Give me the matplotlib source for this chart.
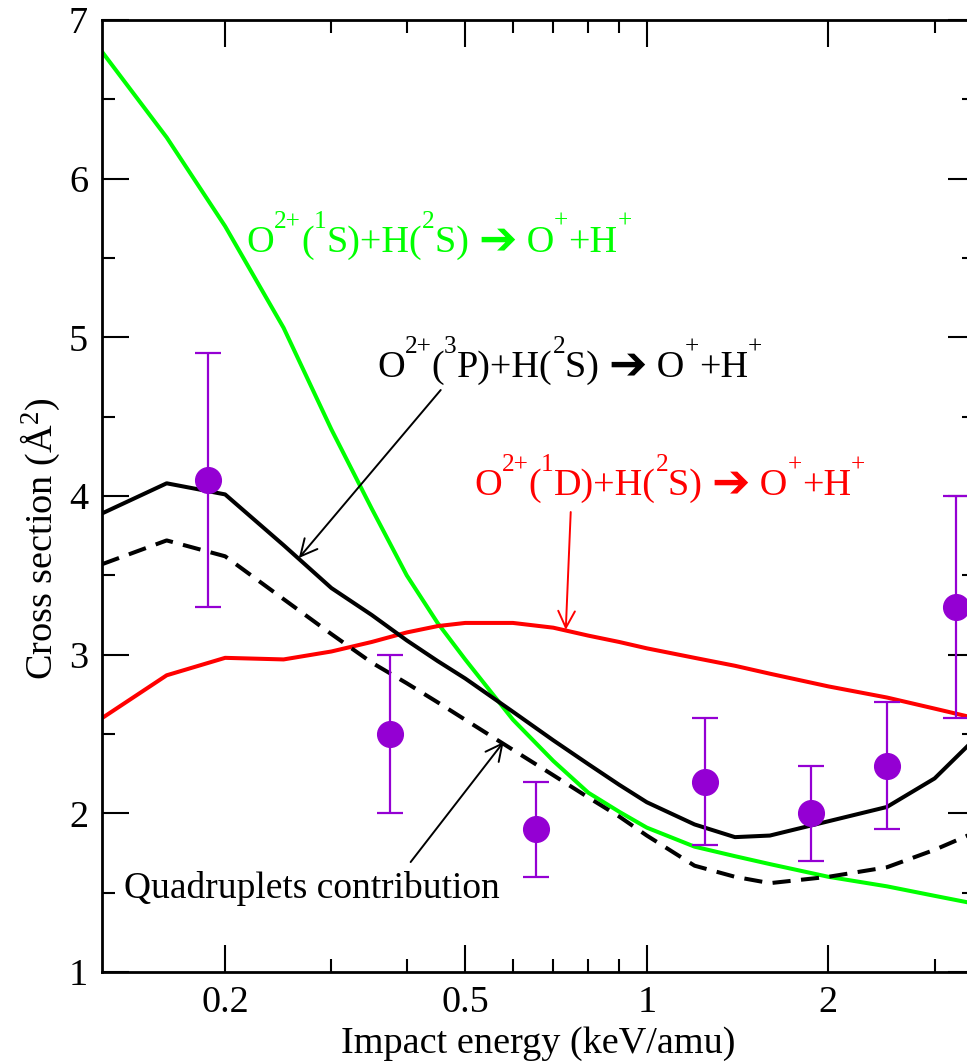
"""
Charge transfer cross sections O2+ + H -> O+ + H+ versus impact energy.
"""
import matplotlib
matplotlib.use("Agg")
import matplotlib.pyplot as plt
from matplotlib.ticker import FixedLocator, NullFormatter, FixedFormatter
from matplotlib.transforms import offset_copy

# energy grid of the computed curves (keV/amu)
energy = [0.125, 0.16, 0.2, 0.25, 0.3, 0.35, 0.4, 0.45, 0.5, 0.6, 0.7,
          0.8, 0.9, 1.0, 1.2, 1.4, 1.6, 2.0, 2.5, 3.0, 3.5]

# O2+(1S) + H(2S)
sigma_1s = [6.80, 6.26, 5.70, 5.06, 4.42, 3.92, 3.50, 3.20, 2.97, 2.59, 2.33,
            2.13, 2.01, 1.91, 1.79, 1.73, 1.68, 1.60, 1.54, 1.48, 1.43]
# O2+(3P) + H(2S), total
sigma_3p = [3.89, 4.08, 4.01, 3.69, 3.42, 3.25, 3.09, 2.96, 2.85, 2.64, 2.46,
            2.31, 2.18, 2.07, 1.93, 1.85, 1.86, 1.95, 2.04, 2.22, 2.47]
# quadruplets contribution of the 3P channel
sigma_quad = [3.57, 3.72, 3.62, 3.35, 3.13, 2.95, 2.82, 2.70, 2.59, 2.40, 2.24,
              2.10, 1.98, 1.86, 1.67, 1.60, 1.56, 1.60, 1.66, 1.77, 1.88]
# O2+(1D) + H(2S)
sigma_1d = [2.60, 2.87, 2.98, 2.97, 3.02, 3.08, 3.14, 3.18, 3.20, 3.20, 3.17,
            3.12, 3.08, 3.04, 2.98, 2.93, 2.88, 2.80, 2.73, 2.66, 2.60]

# experiment
exp_energy = [0.1875, 0.375, 0.656, 1.25, 1.875, 2.5, 3.25]
exp_sigma = [4.1, 2.5, 1.9, 2.2, 2.0, 2.3, 3.3]
exp_err = [0.8, 0.5, 0.3, 0.4, 0.3, 0.4, 0.7]

x_major = [0.2, 0.5, 1, 2]
x_major_labels = ["0.2", "0.5", "1", "2"]
x_minor = [0.3, 0.4, 0.6, 0.7, 0.8, 0.9, 3, 4]

GREEN = "#00ff00"
RED = "#ff0000"
VIOLET = "#9400d3"
FS = 27.5

plt.rcParams["font.family"] = ["Liberation Serif", "DejaVu Sans"]
plt.rcParams["mathtext.fontset"] = "custom"
plt.rcParams["mathtext.rm"] = "Liberation Serif"
plt.rcParams["mathtext.it"] = "Liberation Serif:italic"
plt.rcParams["mathtext.bf"] = "Liberation Serif:bold"


def reaction(term, state):
    """pieces of a label: (text, kind) with kind n=normal, s=sup, a=arrow"""
    return [("O", "n"), ("2+", "s"), ("(", "n"), (term, "s"),
            (state + ")+H(", "n"), ("2", "s"), ("S) ", "n"), ("\u2794", "a"),
            (" O", "n"), ("+", "s"), ("+H", "n"), ("+", "s")]


def rich_text(fig, ax, x, y, pieces, color, size):
    """write text with superscripts piece by piece, starting at data (x, y)."""
    renderer = fig.canvas.get_renderer()
    shift = 0.0
    for s, kind in pieces:
        if kind == "s":
            fs, dy, fam = size * 0.66, size * 0.62, "Liberation Serif"
        elif kind == "a":
            fs, dy, fam = size * 1.2, -size * 0.04, "DejaVu Sans"
        else:
            fs, dy, fam = size, 0.0, "Liberation Serif"
        tr = offset_copy(ax.transData, fig=fig, x=shift, y=dy * fig.dpi / 72,
                         units="dots")
        t = ax.text(x, y, s, transform=tr, color=color, fontsize=fs,
                    family=fam, ha="left", va="baseline")
        shift += t.get_window_extent(renderer).width


fig = plt.figure(figsize=(9.67, 10.64), dpi=100)
ax = fig.add_axes([102 / 967, 92 / 1064, 873 / 967, 952 / 1064])

ax.plot(energy, sigma_1s, color=GREEN, lw=2.9)
ax.plot(energy, sigma_1d, color=RED, lw=2.9)
ax.plot(energy, sigma_3p, color="black", lw=2.9)
ax.plot(energy, sigma_quad, color="black", lw=2.9, ls=(0, (4.5, 2.6)))
ax.errorbar(exp_energy, exp_sigma, yerr=exp_err, fmt="o", color=VIOLET,
            ms=18.5, elinewidth=1.6, capsize=9.5, capthick=1.6, zorder=5)

ax.set_xscale("log")
ax.set_xlim(0.125, 3.5)
ax.set_ylim(1, 7)
ax.xaxis.set_major_locator(FixedLocator(x_major))
ax.xaxis.set_major_formatter(FixedFormatter(x_major_labels))
ax.xaxis.set_minor_locator(FixedLocator(x_minor))
ax.xaxis.set_minor_formatter(NullFormatter())
ax.set_yticks([1, 2, 3, 4, 5, 6, 7])
ax.set_yticks([1.5, 2.5, 3.5, 4.5, 5.5, 6.5], minor=True)

ax.tick_params(which="both", direction="in", top=True, right=True,
               width=1.5, labelsize=FS)
ax.tick_params(which="major", length=19.5, pad=10)
ax.tick_params(which="minor", length=9.5)
for sp in ax.spines.values():
    sp.set_linewidth(2.0)

ax.set_xlabel("Impact energy (keV/amu)", fontsize=FS, labelpad=4)
ax.set_ylabel(r"Cross section (Å$^{2}$)", fontsize=FS, va="center")
ax.yaxis.set_label_coords(-0.071, 0.455)

# curve labels
rich_text(fig, ax, 0.217, 5.54, reaction("1", "S"), GREEN, FS)
rich_text(fig, ax, 0.357, 4.75, reaction("3", "P"), "black", FS)
rich_text(fig, ax, 0.517, 4.006, reaction("1", "D"), RED, FS)
ax.text(0.1358, 1.466, "Quadruplets contribution", color="black",
        fontsize=FS - 0.5, ha="left", va="baseline")

arrow_kw = dict(arrowstyle="->, head_length=0.6, head_width=0.3",
                lw=1.4, mutation_scale=20, shrinkA=0, shrinkB=0)
ax.annotate("", xy=(0.265, 3.609), xytext=(0.4554, 4.668),
            arrowprops=dict(color="black", **arrow_kw))
ax.annotate("", xy=(0.734, 3.156), xytext=(0.748, 3.899),
            arrowprops=dict(color=RED, **arrow_kw))
ax.annotate("", xy=(0.579, 2.45), xytext=(0.406, 1.693),
            arrowprops=dict(color="black", **arrow_kw))

fig.savefig("out.png", dpi=100)
